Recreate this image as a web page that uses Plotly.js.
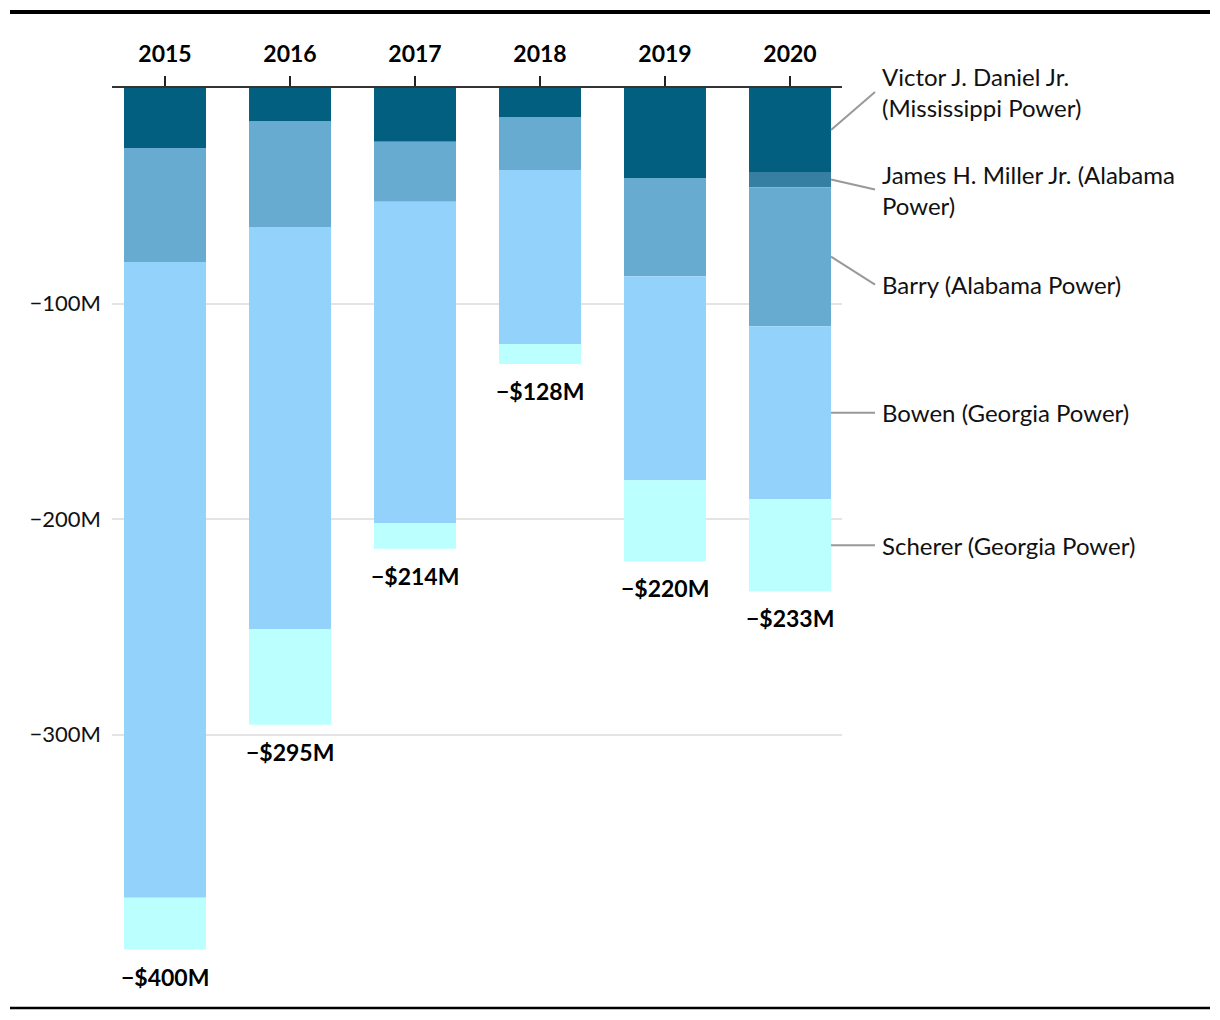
<!DOCTYPE html>
<html>
<head>
<meta charset="utf-8">
<script src="https://cdn.plot.ly/plotly-3.0.1.min.js"></script>
<style>html,body{margin:0;padding:0;background:#fff;}</style>
</head>
<body>
<div id="chart" style="width:1220px;height:1020px;"></div>
<script>
// Data (millions of dollars, negative = loss)
var years = ['2015', '2016', '2017', '2018', '2019', '2020'];
var victor  = [-27.8, -15.3, -25.0, -13.5, -41.8, -39.0];
var miller  = [0, 0, 0, 0, 0, -7.0];
var barry   = [-52.9, -49.2, -27.8, -24.6, -45.5, -64.5];
var bowen   = [-295.0, -186.5, -149.0, -80.7, -94.7, -80.3];
var scherer = [-24.1, -44.5, -12.0, -9.3, -37.6, -42.7];
var totalLabels = ['−$400M', '−$295M', '−$214M', '−$128M', '−$220M', '−$233M'];
var seriesNames = ['Victor J. Daniel Jr.<br>(Mississippi Power)', 'James H. Miller Jr. (Alabama<br>Power)', 'Barry (Alabama Power)', 'Bowen (Georgia Power)', 'Scherer (Georgia Power)'];
var seriesColors = ['#025f80', '#347fa2', '#67abd0', '#93d3fb', '#bbfffe'];
var yTickVals = [-100, -200, -300];
var yTickText = ['−100M', '−200M', '−300M'];

var FONT = 'Lato, "Noto Sans", sans-serif';
var series = [victor, miller, barry, bowen, scherer];
var barWidth = 0.656;
var xRange = [-0.424, 5.416];

var traces = series.map(function (vals, i) {
  return {
    type: 'bar',
    x: years.map(function (_, k) { return k; }),
    y: vals,
    name: seriesNames[i],
    width: barWidth,
    marker: {color: seriesColors[i], line: {width: 0}},
    hoverinfo: 'skip'
  };
});

// totals (bottom of each stack)
var totals = years.map(function (_, k) {
  return series.reduce(function (s, arr) { return s + arr[k]; }, 0);
});

var annotations = years.map(function (_, k) {
  return {
    x: k, y: totals[k], xref: 'x', yref: 'y',
    text: totalLabels[k], showarrow: false,
    yanchor: 'middle', yshift: -27,
    font: {family: FONT, size: 23, color: '#000', weight: 'bold'}
  };
});

function toPaperX(v) { return (v - xRange[0]) / (xRange[1] - xRange[0]); }

// right-side labels for last bar
var last = years.length - 1;
var pxPerUnitY = 862 / 400;
var labelOffsets = [-38, 10, 28, 0, 0]; // pixel offsets of labels vs segment middle
var shapes = [];
var cum = 0;
series.forEach(function (arr, i) {
  var mid = cum + arr[last] / 2;
  cum += arr[last];
  var x0 = toPaperX(last + barWidth / 2);
  var x1 = x0 + 44 / 730;
  var yLab = mid - labelOffsets[i] / pxPerUnitY;
  shapes.push({
    type: 'line', xref: 'paper', yref: 'y',
    x0: x0, y0: mid, x1: x1, y1: yLab,
    line: {color: '#999', width: 2}
  });
  annotations.push({
    x: x1, y: yLab, xref: 'paper', yref: 'y',
    text: seriesNames[i], showarrow: false,
    xanchor: 'left', yanchor: 'middle', align: 'left', xshift: 5,
    font: {family: FONT, size: 24, color: '#111'}
  });
});

// top and bottom rules
shapes.push({type: 'line', xref: 'paper', yref: 'paper',
  x0: (10 - 112) / 730, x1: (1210 - 112) / 730, y0: (950 - 12) / 862, y1: (950 - 12) / 862,
  line: {color: '#000', width: 4}});
shapes.push({type: 'line', xref: 'paper', yref: 'paper',
  x0: (10 - 112) / 730, x1: (1210 - 112) / 730, y0: (950 - 1008) / 862, y1: (950 - 1008) / 862,
  line: {color: '#000', width: 2.5}});

var layout = {
  width: 1220, height: 1020,
  margin: {l: 112, r: 378, t: 88, b: 70},
  paper_bgcolor: '#fff', plot_bgcolor: '#fff',
  barmode: 'relative',
  showlegend: false,
  font: {family: FONT, size: 22, color: '#111'},
  xaxis: {
    side: 'top',
    range: xRange,
    tickvals: years.map(function (_, k) { return k; }),
    ticktext: years,
    ticks: 'outside', ticklen: 10, tickwidth: 1.5, tickcolor: '#222',
    showline: true, linecolor: '#333', linewidth: 2.5,
    showgrid: false, zeroline: false,
    tickfont: {family: FONT, size: 23, color: '#000', weight: 'bold'},
    ticklabelstandoff: 4,
    fixedrange: true
  },
  yaxis: {
    range: [-400, 0],
    tickvals: yTickVals, ticktext: yTickText,
    showgrid: true, gridcolor: '#e4e4e4', gridwidth: 2,
    zeroline: false, showline: false, ticks: '',
    tickfont: {family: FONT, size: 22, color: '#111'},
    ticklabelstandoff: 10,
    fixedrange: true
  },
  shapes: shapes,
  annotations: annotations
};

Plotly.newPlot('chart', traces, layout, {displayModeBar: false, staticPlot: true});
</script>
</body>
</html>
